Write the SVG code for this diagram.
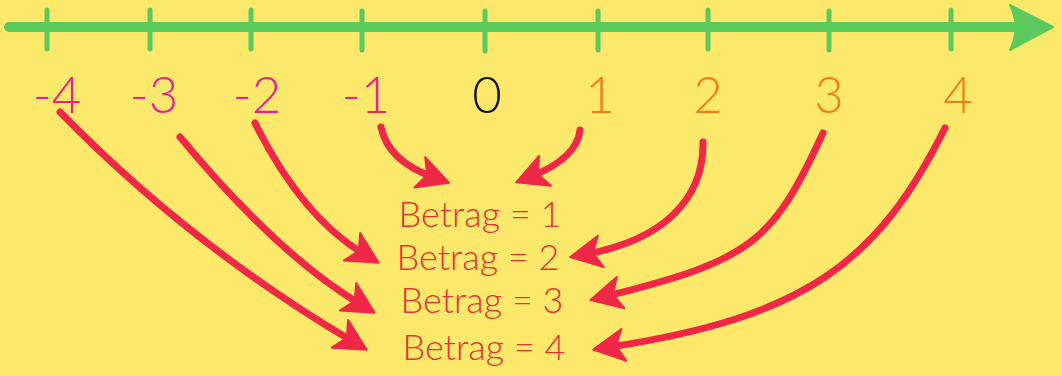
<svg xmlns="http://www.w3.org/2000/svg" width="1062" height="376" viewBox="0 0 1062 376">
<defs>
<style>
.num{font-family:Lato,"Open Sans","Liberation Sans",sans-serif;font-weight:300;font-size:51px;text-anchor:middle}
.neg{fill:#E8218F}
.pos{fill:#F47B16}
.zero{fill:#111111}
.bet{font-family:Lato,"Open Sans","Liberation Sans",sans-serif;font-weight:300;font-size:36px;fill:#E5332F;text-anchor:middle}
.tick{stroke:#5CC95C;stroke-width:5;stroke-linecap:round}
.conn{fill:none;stroke:#EF2847;stroke-width:7;stroke-linecap:round;marker-end:url(#ah)}
</style>
<marker id="ah" markerUnits="userSpaceOnUse" markerWidth="60" markerHeight="60" viewBox="-30 -30 60 60" refX="0" refY="0" orient="auto">
<path d="M17,0 L-14,-16 L-6,0 L-14,16 Z" fill="#EF2847" stroke="#EF2847" stroke-width="2" stroke-linejoin="round"/>
</marker>
</defs>
<rect width="1062" height="376" fill="#FCE96B"/>
<g id="numberline">
<line x1="9" y1="27" x2="1020" y2="27" stroke="#5CC95C" stroke-width="10" stroke-linecap="round"/>
<path d="M1053,27 L1010,5 Q1021,27 1010,50 Z" fill="#5CC95C" stroke="#5CC95C" stroke-width="2" stroke-linejoin="round"/>
<line class="tick" x1="47" y1="10" x2="47" y2="49"/>
<line class="tick" x1="150" y1="10" x2="150" y2="49"/>
<line class="tick" x1="251" y1="10" x2="251" y2="49"/>
<line class="tick" x1="362" y1="11" x2="362" y2="50"/>
<line class="tick" x1="485" y1="11" x2="485" y2="51"/>
<line class="tick" x1="598" y1="11" x2="598" y2="50"/>
<line class="tick" x1="708" y1="10" x2="708" y2="49"/>
<line class="tick" x1="829" y1="11" x2="829" y2="50"/>
<line class="tick" x1="951" y1="10" x2="951" y2="49"/>
</g>
<g id="n-4"><text class="num neg" x="57" y="113">-4</text></g>
<g id="n-3"><text class="num neg" x="154" y="113">-3</text></g>
<g id="n-2"><text class="num neg" x="257" y="113">-2</text></g>
<g id="n-1"><text class="num neg" x="366" y="113">-1</text></g>
<g id="n0"><text class="num zero" x="487" y="113">0</text></g>
<g id="n1"><text class="num pos" x="600" y="113">1</text></g>
<g id="n2"><text class="num pos" x="708" y="113">2</text></g>
<g id="n3"><text class="num pos" x="829" y="113">3</text></g>
<g id="n4"><text class="num pos" x="958" y="113">4</text></g>
<g id="b1"><text class="bet" x="480" y="227">Betrag = 1</text></g>
<g id="b2"><text class="bet" x="478" y="270">Betrag = 2</text></g>
<g id="b3"><text class="bet" x="482" y="313">Betrag = 3</text></g>
<g id="b4"><text class="bet" x="484" y="360">Betrag = 4</text></g>
<g id="connectors">
<path class="conn" d="M60,112 Q190,245 352,341"/>
<path class="conn" d="M180,137 Q278,255 360,304"/>
<path class="conn" d="M255,123 Q302,217 364,254"/>
<path class="conn" d="M381,127 Q388,161 433,177"/>
<path class="conn" d="M580,130 Q577,158 532,176"/>
<path class="conn" d="M703,142 C704,200 662,240 587,254"/>
<path class="conn" d="M823,133 C773,242 752,260 607,296"/>
<path class="conn" d="M945,128 C878,262 806,317 610,347"/>
</g>
</svg>
